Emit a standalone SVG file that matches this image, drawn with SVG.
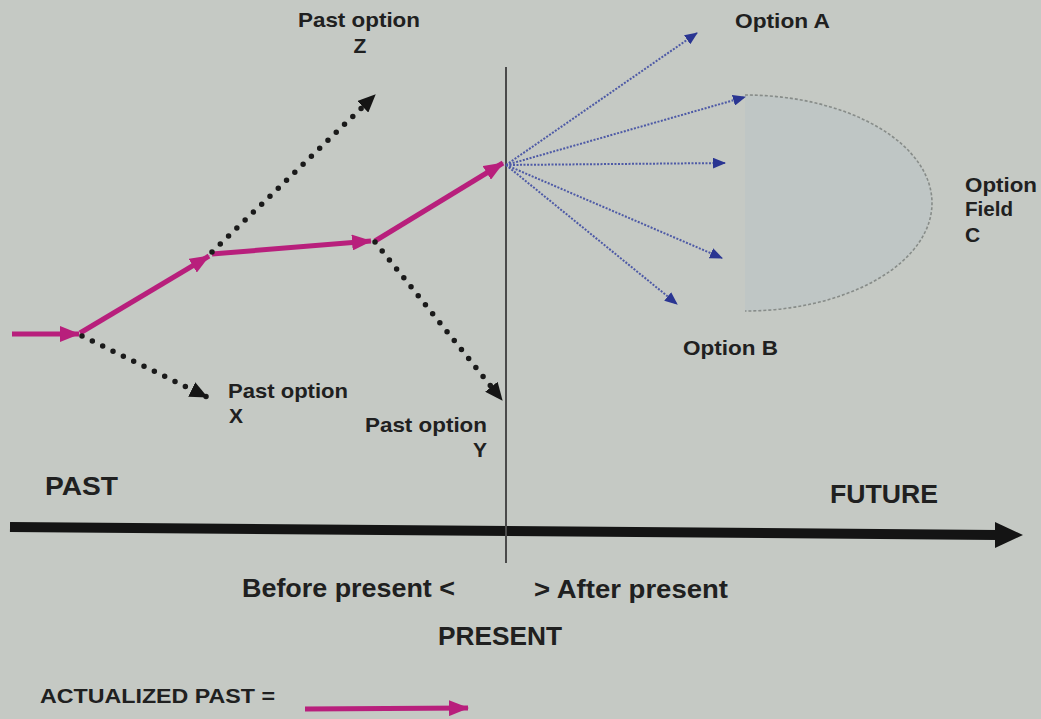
<svg xmlns="http://www.w3.org/2000/svg" width="1041" height="719" viewBox="0 0 1041 719">
<style>
  .t { font-family: "Liberation Sans", Arial, sans-serif; font-weight: bold; fill: #202020; }
  .s { font-size: 21px; }
  .l { font-size: 25px; }
  .mag { fill: none; stroke: #b81f7c; stroke-width: 5; marker-end: url(#mArr); }
  .dot { fill: none; stroke: #1a1a1a; stroke-width: 5.5; stroke-linecap: round; stroke-dasharray: 0 11.5; marker-end: url(#kArr); }
  .blu { fill: none; stroke: #4e5aa6; stroke-width: 2; stroke-dasharray: 2 1.5; marker-end: url(#bArr); }
</style>
<defs>
  <marker id="mArr" viewBox="0 0 20 16" refX="19" refY="8" markerWidth="20" markerHeight="16" markerUnits="userSpaceOnUse" orient="auto">
    <path d="M0,0 L20,8 L0,16 z" fill="#b81f7c"/>
  </marker>
  <marker id="kArr" viewBox="0 0 18 16" refX="17" refY="8" markerWidth="18" markerHeight="16" markerUnits="userSpaceOnUse" orient="auto">
    <path d="M0,0 L18,8 L0,16 z" fill="#151515"/>
  </marker>
  <marker id="bArr" viewBox="0 0 13 11" refX="12" refY="5.5" markerWidth="13" markerHeight="11" markerUnits="userSpaceOnUse" orient="auto">
    <path d="M0,0 L13,5.5 L0,11 z" fill="#2a3592"/>
  </marker>
</defs>
<rect x="0" y="0" width="1041" height="719" fill="#c5c9c4"/>

<g id="option-field-c">
  <path d="M745,95 A187,108 0 0 1 745,311 Z" fill="#b4c0c6" fill-opacity="0.3" stroke="none"/>
  <path d="M745,95 A187,108 0 0 1 745,311" fill="none" stroke="#878c89" stroke-width="1.6" stroke-dasharray="3 2"/>
  <text class="t s" x="965" y="192" textLength="72" lengthAdjust="spacingAndGlyphs">Option</text>
  <text class="t s" x="965" y="216" textLength="48" lengthAdjust="spacingAndGlyphs">Field</text>
  <text class="t s" x="965" y="242">C</text>
</g>

<g id="timeline">
  <line x1="10" y1="527" x2="998" y2="535" stroke="#141414" stroke-width="10"/>
  <polygon points="995,522 1023,535 995,548" fill="#141414"/>
</g>

<g id="present-line">
  <line x1="506" y1="67" x2="506" y2="563" stroke="#4a4a4a" stroke-width="2"/>
</g>

<g id="connectors">
  <path class="mag" d="M12,334 L79,334"/>
  <path class="mag" d="M80,333 L209,256"/>
  <path class="mag" d="M212,254 L371,241"/>
  <path class="mag" d="M375,241 L503,163"/>
  <path class="dot" d="M82,336 L207,397"/>
  <path class="dot" d="M212,252 L375,95"/>
  <path class="dot" d="M375,242 L502,400"/>
  <path class="blu" d="M506,165 L697,33"/>
  <path class="blu" d="M506,165 L745,97"/>
  <path class="blu" d="M506,165 L725,163"/>
  <path class="blu" d="M506,165 L722,258"/>
  <path class="blu" d="M506,165 L677,304"/>
</g>

<g id="past-option-z">
  <text class="t s" x="298" y="27" textLength="122" lengthAdjust="spacingAndGlyphs">Past option</text>
  <text class="t s" x="360" y="53" text-anchor="middle">Z</text>
</g>
<g id="past-option-x">
  <text class="t s" x="228" y="398" textLength="120" lengthAdjust="spacingAndGlyphs">Past option</text>
  <text class="t s" x="229" y="423">X</text>
</g>
<g id="past-option-y">
  <text class="t s" x="365" y="432" textLength="122" lengthAdjust="spacingAndGlyphs">Past option</text>
  <text class="t s" x="480" y="457" text-anchor="middle">Y</text>
</g>
<g id="option-a">
  <text class="t s" x="735" y="28" textLength="95" lengthAdjust="spacingAndGlyphs">Option A</text>
</g>
<g id="option-b">
  <text class="t s" x="683" y="355" textLength="95" lengthAdjust="spacingAndGlyphs">Option B</text>
</g>

<g id="labels">
  <text class="t l" x="45" y="495" textLength="73" lengthAdjust="spacingAndGlyphs">PAST</text>
  <text class="t l" x="830" y="503" textLength="108" lengthAdjust="spacingAndGlyphs">FUTURE</text>
  <text class="t l" x="242" y="597" textLength="213" lengthAdjust="spacingAndGlyphs">Before present &lt;</text>
  <text class="t l" x="534" y="598" textLength="194" lengthAdjust="spacingAndGlyphs">&gt; After present</text>
  <text class="t l" x="438" y="645" textLength="124" lengthAdjust="spacingAndGlyphs">PRESENT</text>
</g>

<g id="legend">
  <text class="t" font-size="21" x="40" y="703" textLength="235" lengthAdjust="spacingAndGlyphs">ACTUALIZED PAST =</text>
  <path class="mag" d="M305,709 L468,708"/>
</g>
</svg>
